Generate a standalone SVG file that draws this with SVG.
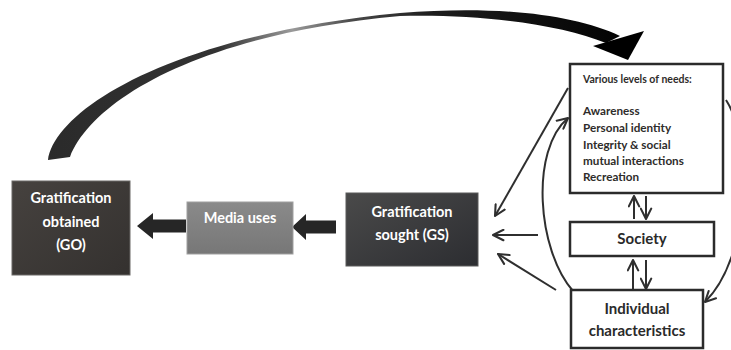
<svg xmlns="http://www.w3.org/2000/svg" width="731" height="350" viewBox="0 0 731 350">
<defs>
<style>
.lbl{font-family:Lato,"Open Sans","Liberation Sans",sans-serif;font-weight:bold;}
.w{fill:#ffffff;font-size:14.5px;text-anchor:middle;}
.k{fill:#2a2a2a;text-anchor:middle;font-size:15px;}
.n{fill:#2e2c2a;font-size:11.7px;}
.box{fill:#ffffff;stroke:#2b2b2b;stroke-width:2.5;}
.thin{fill:none;stroke:#2f2f2f;stroke-width:2;marker-end:url(#v);}
.blk{fill:#262626;}
</style>
<marker id="v" viewBox="0 0 10 10" refX="9" refY="5" markerWidth="6.5" markerHeight="6.5" orient="auto" markerUnits="strokeWidth">
<path d="M1,1 L9,5 L1,9" fill="none" stroke="#2f2f2f" stroke-width="1.6" stroke-linecap="round" stroke-linejoin="round"/>
</marker>
<linearGradient id="big" x1="40" y1="0" x2="640" y2="0" gradientUnits="userSpaceOnUse">
<stop offset="0" stop-color="#2a2a2a"/>
<stop offset="0.3" stop-color="#333"/>
<stop offset="0.42" stop-color="#9a9a9a"/>
<stop offset="0.52" stop-color="#4a4a4a"/>
<stop offset="0.65" stop-color="#1e1e1e"/>
<stop offset="1" stop-color="#000"/>
</linearGradient>
<linearGradient id="dark1" x1="0" y1="0" x2="1" y2="1">
<stop offset="0" stop-color="#46423f"/>
<stop offset="1" stop-color="#34312f"/>
</linearGradient>
<linearGradient id="dark2" x1="0" y1="0" x2="1" y2="1">
<stop offset="0" stop-color="#4a4a4a"/>
<stop offset="1" stop-color="#2c2d31"/>
</linearGradient>
<linearGradient id="gray" x1="0" y1="0" x2="0" y2="1">
<stop offset="0" stop-color="#8a8a8a"/>
<stop offset="1" stop-color="#777777"/>
</linearGradient>
</defs>
<rect width="731" height="350" fill="#ffffff"/>

<g id="connectors">
<path id="big-arrow" fill="url(#big)" d="M48,160 C55,110 170,35 400,13 C500,5 575,15 620,36 L606,43 C560,24 480,14 400,16 C200,34 92,100 70,157 Z"/>
<path fill="#000" d="M593,46 L644,31 L628,60 Z"/>
<path class="blk" d="M137,226 L153,213 L153,219.5 L186,219.5 L186,232.5 L153,232.5 L153,239 Z"/>
<path class="blk" d="M292,227 L306,214 L306,220.5 L336,220.5 L336,233.5 L306,233.5 L306,240 Z"/>
<path class="thin" d="M568,88 L495,216"/>
<path class="thin" d="M538,235 L493,235"/>
<path class="thin" d="M556,290 L498,254"/>
<path class="thin" d="M573,291 C537,250 530,150 568,118"/>
<path class="thin" d="M726,100 C752,140 752,255 705,302"/>
<path class="thin" d="M634,219 L634,196"/>
<path class="thin" d="M646,196 L646,219"/>
<path class="thin" d="M633,290 L633,260"/>
<path class="thin" d="M646,260 L646,289"/>
</g>

<g id="go">
<rect x="12" y="181" width="118" height="94" fill="url(#dark1)" stroke="#6a6866" stroke-width="1"/>
<text class="lbl w" x="71" y="203">Gratification</text>
<text class="lbl w" x="71" y="227">obtained</text>
<text class="lbl w" x="71" y="250">(GO)</text>
</g>

<g id="media">
<rect x="187" y="202" width="106" height="52" fill="url(#gray)" stroke="#a0a0a0" stroke-width="1"/>
<text class="lbl w" x="240" y="223">Media uses</text>
</g>

<g id="gs">
<rect x="346" y="193" width="132" height="73" fill="url(#dark2)" stroke="#5a5a5a" stroke-width="1"/>
<text class="lbl w" x="412" y="217">Gratification</text>
<text class="lbl w" x="412" y="240">sought (GS)</text>
</g>

<g id="needs">
<rect class="box" x="570" y="64" width="153" height="129"/>
<text class="lbl n" x="583" y="83" style="font-size:10.5px">Various levels of needs:</text>
<text class="lbl n" x="583" y="115">Awareness</text>
<text class="lbl n" x="583" y="132">Personal identity</text>
<text class="lbl n" x="583" y="149">Integrity &amp; social</text>
<text class="lbl n" x="583" y="165">mutual interactions</text>
<text class="lbl n" x="583" y="181">Recreation</text>
</g>

<g id="society">
<rect class="box" x="570" y="222" width="144" height="34"/>
<text class="lbl k" x="642" y="244">Society</text>
</g>

<g id="individual">
<rect class="box" x="571" y="290" width="132" height="58"/>
<text class="lbl k" x="637" y="314">Individual</text>
<text class="lbl k" x="637" y="336">characteristics</text>
</g>
</svg>
